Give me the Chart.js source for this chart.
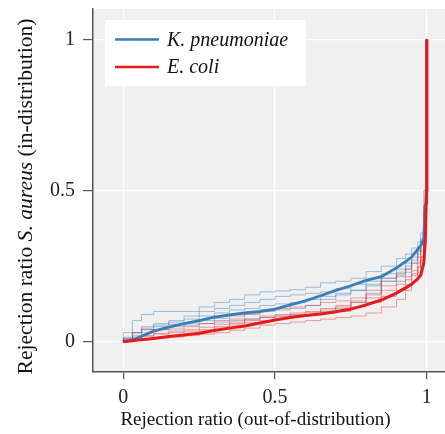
<!DOCTYPE html>
<html>
<head>
<meta charset="utf-8">
<script src="https://cdn.jsdelivr.net/npm/chart.js@4"></script>
<style>
  html, body { margin: 0; padding: 0; background: #fff; }
  #wrap { width: 445px; height: 434px; }
</style>
</head>
<body>
<div id="wrap"><canvas id="lineChart" width="445" height="434"></canvas></div>
<script>
// rejection ratio out-of-distribution (shared x grid)
const oodRatio = [0, 0.03, 0.06, 0.1, 0.15, 0.2, 0.25, 0.3, 0.35, 0.4, 0.45, 0.5, 0.55, 0.6, 0.65, 0.7, 0.75, 0.8, 0.85, 0.9, 0.93, 0.95, 0.97, 0.98, 0.99, 0.995, 0.999, 1];

// mean curves
const kpnMean = [0, 0.006, 0.018, 0.035, 0.048, 0.06, 0.07, 0.081, 0.089, 0.095, 0.1, 0.108, 0.122, 0.135, 0.152, 0.17, 0.185, 0.203, 0.215, 0.244, 0.265, 0.28, 0.305, 0.318, 0.34, 0.45, 0.46, 1];
const ecoMean = [0, 0.003, 0.007, 0.011, 0.017, 0.022, 0.028, 0.037, 0.045, 0.052, 0.062, 0.072, 0.08, 0.087, 0.092, 0.099, 0.108, 0.122, 0.138, 0.161, 0.178, 0.19, 0.208, 0.22, 0.26, 0.33, 0.5, 1];

// individual runs
const kpnRuns = [
    [0, 0.03, 0.07, 0.09, 0.1, 0.1, 0.1, 0.115, 0.13, 0.14, 0.155, 0.165, 0.168, 0.172, 0.18, 0.195, 0.2, 0.21, 0.232, 0.25, 0.275, 0.29, 0.31, 0.33, 0.36, 0.5, 0.52, 1],
    [0, 0.01, 0.03, 0.05, 0.06, 0.07, 0.085, 0.1, 0.11, 0.12, 0.13, 0.14, 0.15, 0.155, 0.16, 0.165, 0.175, 0.19, 0.2, 0.225, 0.24, 0.26, 0.29, 0.31, 0.34, 0.45, 0.48, 1],
    [0, 0.008, 0.02, 0.04, 0.05, 0.058, 0.062, 0.07, 0.078, 0.085, 0.095, 0.1, 0.105, 0.11, 0.12, 0.14, 0.155, 0.17, 0.19, 0.21, 0.23, 0.25, 0.28, 0.3, 0.33, 0.42, 0.45, 1],
    [0, 0.005, 0.015, 0.03, 0.04, 0.05, 0.055, 0.06, 0.065, 0.07, 0.075, 0.08, 0.085, 0.088, 0.09, 0.1, 0.11, 0.13, 0.16, 0.2, 0.22, 0.24, 0.27, 0.3, 0.33, 0.4, 0.43, 1],
    [0, 0.015, 0.03, 0.045, 0.055, 0.065, 0.075, 0.085, 0.095, 0.105, 0.11, 0.12, 0.125, 0.13, 0.14, 0.15, 0.16, 0.17, 0.185, 0.2, 0.215, 0.23, 0.26, 0.29, 0.32, 0.45, 0.47, 1]
];
const ecoRuns = [
    [0, 0.01, 0.03, 0.04, 0.04, 0.042, 0.05, 0.06, 0.07, 0.075, 0.09, 0.105, 0.11, 0.115, 0.12, 0.13, 0.135, 0.145, 0.17, 0.21, 0.225, 0.24, 0.26, 0.28, 0.32, 0.4, 0.5, 1],
    [0, 0.005, 0.012, 0.02, 0.028, 0.035, 0.04, 0.048, 0.058, 0.065, 0.075, 0.085, 0.09, 0.095, 0.1, 0.11, 0.12, 0.135, 0.155, 0.185, 0.2, 0.215, 0.235, 0.26, 0.3, 0.38, 0.45, 1],
    [0, 0.002, 0.005, 0.01, 0.015, 0.02, 0.028, 0.035, 0.045, 0.055, 0.063, 0.07, 0.078, 0.085, 0.09, 0.095, 0.1, 0.115, 0.13, 0.15, 0.17, 0.19, 0.22, 0.25, 0.28, 0.36, 0.42, 1],
    [0, 0.002, 0.004, 0.008, 0.012, 0.016, 0.02, 0.025, 0.03, 0.038, 0.045, 0.055, 0.06, 0.065, 0.07, 0.075, 0.08, 0.085, 0.095, 0.115, 0.14, 0.17, 0.2, 0.23, 0.27, 0.34, 0.4, 1],
    [0, 0.004, 0.01, 0.018, 0.025, 0.03, 0.035, 0.04, 0.05, 0.06, 0.07, 0.08, 0.085, 0.09, 0.097, 0.105, 0.115, 0.13, 0.145, 0.17, 0.19, 0.205, 0.225, 0.245, 0.28, 0.36, 0.42, 1]
];

const seriesLabels = ['K. pneumoniae', 'E. coli'];
const tickValues = [0, 0.5, 1];

const BLUE = 'rgb(55, 126, 184)';
const RED = 'rgb(228, 26, 28)';
const SERIF = '"Liberation Serif", "DejaVu Serif", serif';

function pts(ys) {
    return ys.map((y, i) => ({ x: oodRatio[i], y: y }));
}

// higher order = drawn further back
const datasets = [];
kpnRuns.forEach(r => datasets.push({
    data: pts(r), borderColor: 'rgba(55, 126, 184, 0.45)', borderWidth: 1, stepped: 'after', order: 4, showInLegend: false
}));
ecoRuns.forEach(r => datasets.push({
    data: pts(r), borderColor: 'rgba(228, 26, 28, 0.4)', borderWidth: 1, stepped: 'after', order: 3, showInLegend: false
}));
datasets.push({ label: seriesLabels[0], data: pts(kpnMean), borderColor: BLUE, borderWidth: 2.8, order: 2, showInLegend: true });
datasets.push({ label: seriesLabels[1], data: pts(ecoMean), borderColor: RED, borderWidth: 3, order: 1, showInLegend: true });

// grey plot background
const plotBg = {
    id: 'plotBg',
    beforeDraw(chart) {
        const { ctx, chartArea: a } = chart;
        ctx.save();
        ctx.fillStyle = '#fff';
        ctx.fillRect(0, 0, chart.width, chart.height);
        ctx.fillStyle = '#f0f0f0';
        ctx.fillRect(a.left, a.top, a.right - a.left, a.bottom - a.top);
        ctx.restore();
    }
};

// axis titles with italic species name + boxed legend
const extras = {
    id: 'extras',
    afterDraw(chart) {
        const ctx = chart.ctx;
        ctx.save();
        ctx.fillStyle = '#111';
        ctx.textBaseline = 'alphabetic';

        // x title
        ctx.font = '19px ' + SERIF;
        ctx.textAlign = 'center';
        ctx.fillText('Rejection ratio (out-of-distribution)', 255.5, 425);

        // y title (mixed italic), stretched to the reference length
        const parts = [
            ['Rejection ratio ', '20px ' + SERIF],
            ['S. aureus', 'italic 20px ' + SERIF],
            [' (in-distribution)', '20px ' + SERIF]
        ];
        let total = 0;
        parts.forEach(p => { ctx.font = p[1]; total += ctx.measureText(p[0]).width; });
        const stretch = 356 / total;
        ctx.translate(31.5, 196.5);
        ctx.rotate(-Math.PI / 2);
        ctx.scale(stretch, 1);
        ctx.textAlign = 'left';
        let x = -total / 2;
        parts.forEach(p => { ctx.font = p[1]; ctx.fillText(p[0], x, 0); x += ctx.measureText(p[0]).width; });
        ctx.setTransform(1, 0, 0, 1, 0, 0);

        // legend
        ctx.fillStyle = '#fff';
        ctx.fillRect(105, 20, 201, 66);
        const items = chart.data.datasets.filter(d => d.showInLegend);
        items.forEach((d, i) => {
            const y = 39.5 + i * 27.5;
            ctx.strokeStyle = d.borderColor;
            ctx.lineWidth = 2.6;
            ctx.beginPath();
            ctx.moveTo(115, y);
            ctx.lineTo(159, y);
            ctx.stroke();
            ctx.fillStyle = '#111';
            ctx.font = 'italic 20px ' + SERIF;
            ctx.textAlign = 'left';
            ctx.textBaseline = 'middle';
            ctx.fillText(d.label, 167, y + 1);
        });
        ctx.restore();
    }
};

const ctx = document.getElementById('lineChart').getContext('2d');
new Chart(ctx, {
    type: 'line',
    data: { datasets: datasets },
    options: {
        responsive: false,
        animation: false,
        layout: { padding: { top: 9, right: 0, bottom: 0, left: 0 } },
        elements: { point: { radius: 0 }, line: { tension: 0 } },
        plugins: { legend: { display: false }, tooltip: { enabled: false } },
        scales: {
            x: {
                type: 'linear',
                min: -0.1,
                max: 1.06,
                afterFit: s => { s.height = 62; s.paddingLeft = 0; s.paddingRight = 0; },
                afterBuildTicks: s => { s.ticks = tickValues.map(v => ({ value: v })); },
                grid: { color: '#ffffff', lineWidth: 1.2, tickColor: '#555', tickLength: 7 },
                border: { display: true, color: '#555', width: 1.5 },
                ticks: {
                    padding: 7,
                    color: '#222',
                    font: { family: SERIF, size: 20 },
                    maxRotation: 0,
                    callback: v => String(v)
                }
            },
            y: {
                type: 'linear',
                min: -0.1,
                max: 1.1,
                afterFit: s => { s.width = 93; s.paddingTop = 0; s.paddingBottom = 0; },
                afterBuildTicks: s => { s.ticks = tickValues.map(v => ({ value: v })); },
                grid: { color: '#ffffff', lineWidth: 1.2, tickColor: '#555', tickLength: 10 },
                border: { display: true, color: '#555', width: 1.5 },
                ticks: {
                    padding: 8,
                    color: '#222',
                    font: { family: SERIF, size: 20 },
                    callback: v => String(v)
                }
            }
        }
    },
    plugins: [plotBg, extras]
});
</script>
</body>
</html>
